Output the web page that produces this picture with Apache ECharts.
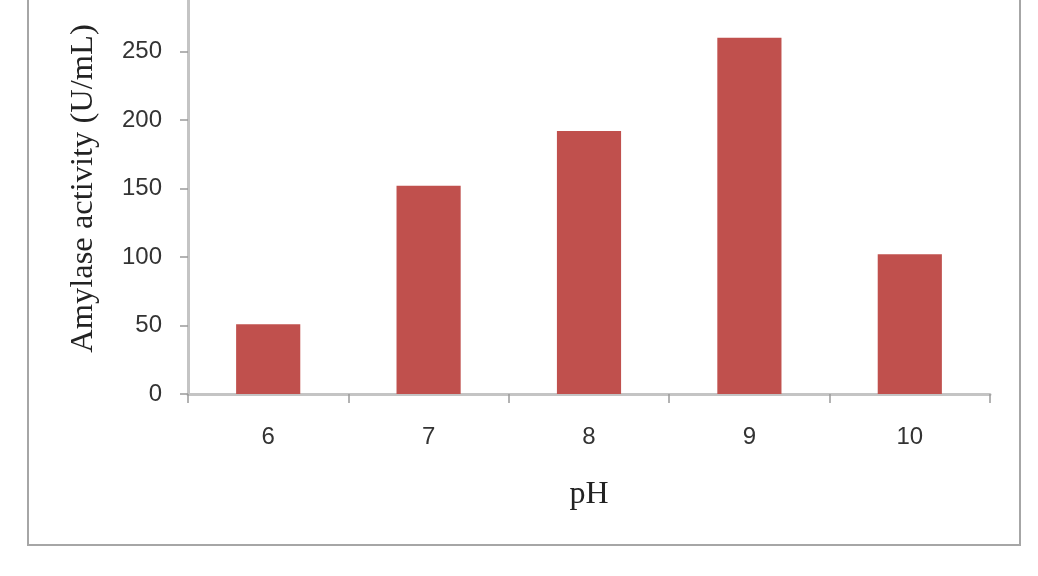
<!DOCTYPE html>
<html>
<head>
<meta charset="utf-8">
<script src="https://cdn.jsdelivr.net/npm/echarts@6/dist/echarts.min.js"></script>
<style>
  html, body { margin: 0; padding: 0; background: #ffffff; }
  #chart { width: 1038px; height: 576px; }
</style>
</head>
<body>
<div id="chart"></div>
<script>
const categories = ['6', '7', '8', '9', '10'];
const activity = [51, 152, 192, 260, 102];
const yTicks = [0, 50, 100, 150, 200, 250, 300];
const xTitle = 'pH';
const yTitle = 'Amylase activity (U/mL)';

const chart = echarts.init(document.getElementById('chart'), null, { renderer: 'canvas' });
chart.setOption({
  animation: false,
  backgroundColor: '#ffffff',
  grid: { left: 188, right: 48, top: -17, bottom: 182, containLabel: false, outerBoundsMode: 'none' },
  graphic: [{
    type: 'rect', z: -1, silent: true,
    shape: { x: 28, y: -20, width: 992, height: 565 },
    style: { fill: 'none', stroke: '#a6a6a6', lineWidth: 2 }
  }],
  xAxis: {
    type: 'category',
    data: categories,
    name: xTitle,
    nameLocation: 'middle',
    nameGap: 85,
    nameTextStyle: { fontFamily: 'Liberation Serif', fontSize: 32, color: '#222222' },
    axisLine: { lineStyle: { color: '#c4c4c4', width: 3 } },
    axisTick: { show: true, alignWithLabel: false, length: 9, lineStyle: { color: '#9a9a9a', width: 1.5 } },
    axisLabel: { margin: 31, fontFamily: 'Liberation Sans', fontSize: 24, color: '#333333' },
    splitLine: { show: false }
  },
  yAxis: {
    type: 'value',
    min: yTicks[0],
    max: yTicks[yTicks.length - 1],
    interval: yTicks[1] - yTicks[0],
    name: yTitle,
    nameLocation: 'middle',
    nameGap: 88,
    nameTextStyle: { fontFamily: 'Liberation Serif', fontSize: 32.5, color: '#222222' },
    axisLine: { show: true, lineStyle: { color: '#c4c4c4', width: 3 } },
    axisTick: { show: true, length: 8, lineStyle: { color: '#9a9a9a', width: 1.5 } },
    axisLabel: { margin: 26, fontFamily: 'Liberation Sans', fontSize: 24, color: '#333333' },
    splitLine: { show: false }
  },
  series: [{
    type: 'bar',
    data: activity,
    barWidth: '40%',
    itemStyle: { color: '#c0504d' }
  }]
});
</script>
</body>
</html>
